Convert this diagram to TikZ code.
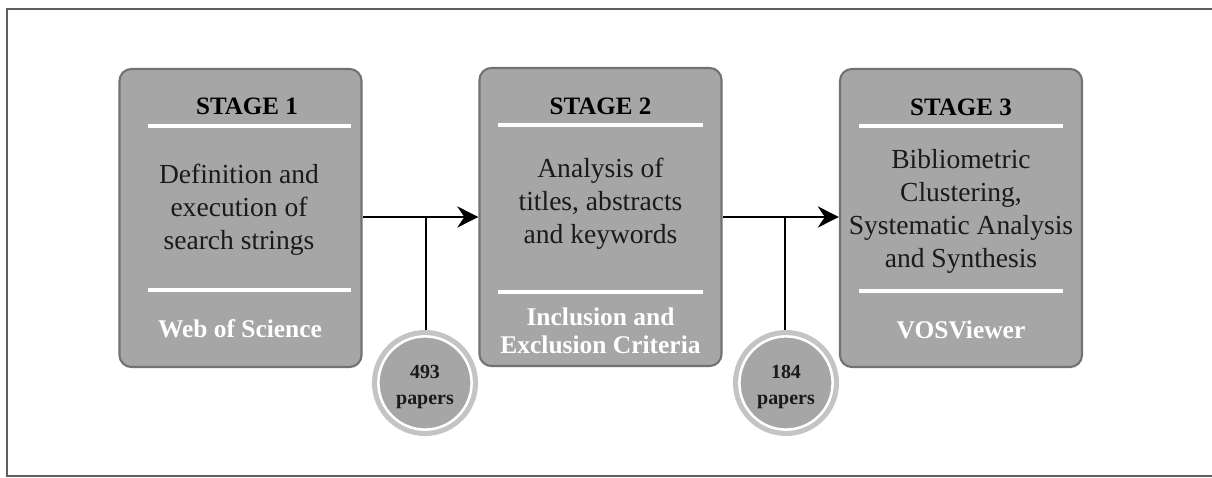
\documentclass[tikz,border=0pt]{standalone}
\usepackage{fontspec}
\setmainfont{Liberation Serif}
\usetikzlibrary{arrows.meta}
\definecolor{boxgray}{HTML}{A6A6A6}
\definecolor{boxedge}{HTML}{727272}
\definecolor{ringgray}{HTML}{C4C4C4}
\definecolor{framegray}{HTML}{5E5E5E}
\definecolor{inkdark}{HTML}{1A1A1A}
\tikzset{
  stagebox/.style={rectangle, rounded corners=12*0.025cm, fill=boxgray, draw=boxedge, line width=1.5pt,
    minimum width=6.05cm, minimum height=7.45cm, inner sep=0pt},
  titletext/.style={font=\fontsize{17.8}{20}\selectfont\bfseries, text=black, inner sep=0pt},
  bodytext/.style={font=\fontsize{19.6}{23.5}\selectfont, text=inkdark, align=center, inner sep=0pt},
  tooltext/.style={font=\fontsize{18.1}{20}\selectfont\bfseries, text=white, align=center, inner sep=0pt},
  sepline/.style={draw=white, line width=2.2pt},
  flow/.style={draw=black, line width=1.9pt},
  flowarrow/.style={flow, -{Stealth[length=15pt, width=15pt, inset=5pt]}},
  ringouter/.style={circle, fill=ringgray, minimum size=2.65cm, inner sep=0pt},
  ringinner/.style={circle, fill=boxgray, draw=white, line width=1.8pt, minimum size=2.33cm, inner sep=0pt},
  counttext/.style={font=\fontsize{14.2}{18.5}\selectfont\bfseries, text=inkdark, align=center, inner sep=0pt},
  framestyle/.style={draw=framegray, line width=1.3pt}
}
\begin{document}
\begin{tikzpicture}[x=0.025cm, y=-0.025cm]
\useasboundingbox (0,0) rectangle (1212,478);
% frame (open on the right)
\draw[framestyle] (1212,9) -- (7,9) -- (7,476) -- (1212,476);

% stage boxes
\node[stagebox] (b1) at (240.5,218) {};
\node[stagebox] (b2) at (600.5,217) {};
\node[stagebox] (b3) at (961,218) {};

% separator lines
\draw[sepline] (148,126) -- (351,126);
\draw[sepline] (148,290) -- (351,290);
\draw[sepline] (498,125) -- (703,125);
\draw[sepline] (498,292) -- (703,292);
\draw[sepline] (859,126) -- (1063,126);
\draw[sepline] (859,291) -- (1063,291);

% titles
\node[titletext] (t1) at (247,106) {STAGE 1};
\node[titletext] (t2) at (600.5,106) {STAGE 2};
\node[titletext] (t3) at (961,107) {STAGE 3};

% body texts
\node[bodytext] (d1) at (239,210) {Definition and\\execution of\\search strings};
\node[bodytext] (d2) at (600.5,204) {Analysis of\\titles, abstracts\\and keywords};
\node[bodytext] (d3) at (961,211) {Bibliometric\\Clustering,\\Systematic Analysis\\and Synthesis};

% tools
\node[tooltext] (w1) at (240,329) {Web of Science};
\node[tooltext] (w2) at (600.5,331) {Inclusion and\\Exclusion Criteria};
\node[tooltext] (w3) at (961,330) {VOSViewer};

% paper count circles
\node[ringouter] (c1o) at (425,383) {};
\node[ringinner] (c1) at (425,383) {};
\node[counttext] (n1) at (425,387) {493\\papers};
\node[ringouter] (c2o) at (786,383) {};
\node[ringinner] (c2) at (786,383) {};
\node[counttext] (n2) at (786,387) {184\\papers};

% junctions
\coordinate (j1) at (426,217);
\coordinate (j2) at (785,217);

% connectors
\draw[flowarrow] (b1.east |- j1) -- (b2.west |- j1);
\draw[flowarrow] (b2.east |- j2) -- (b3.west |- j2);
\draw[flow] (j1) -- (j1 |- c1o.north);
\draw[flow] (j2) -- (j2 |- c2o.north);
\end{tikzpicture}
\end{document}
